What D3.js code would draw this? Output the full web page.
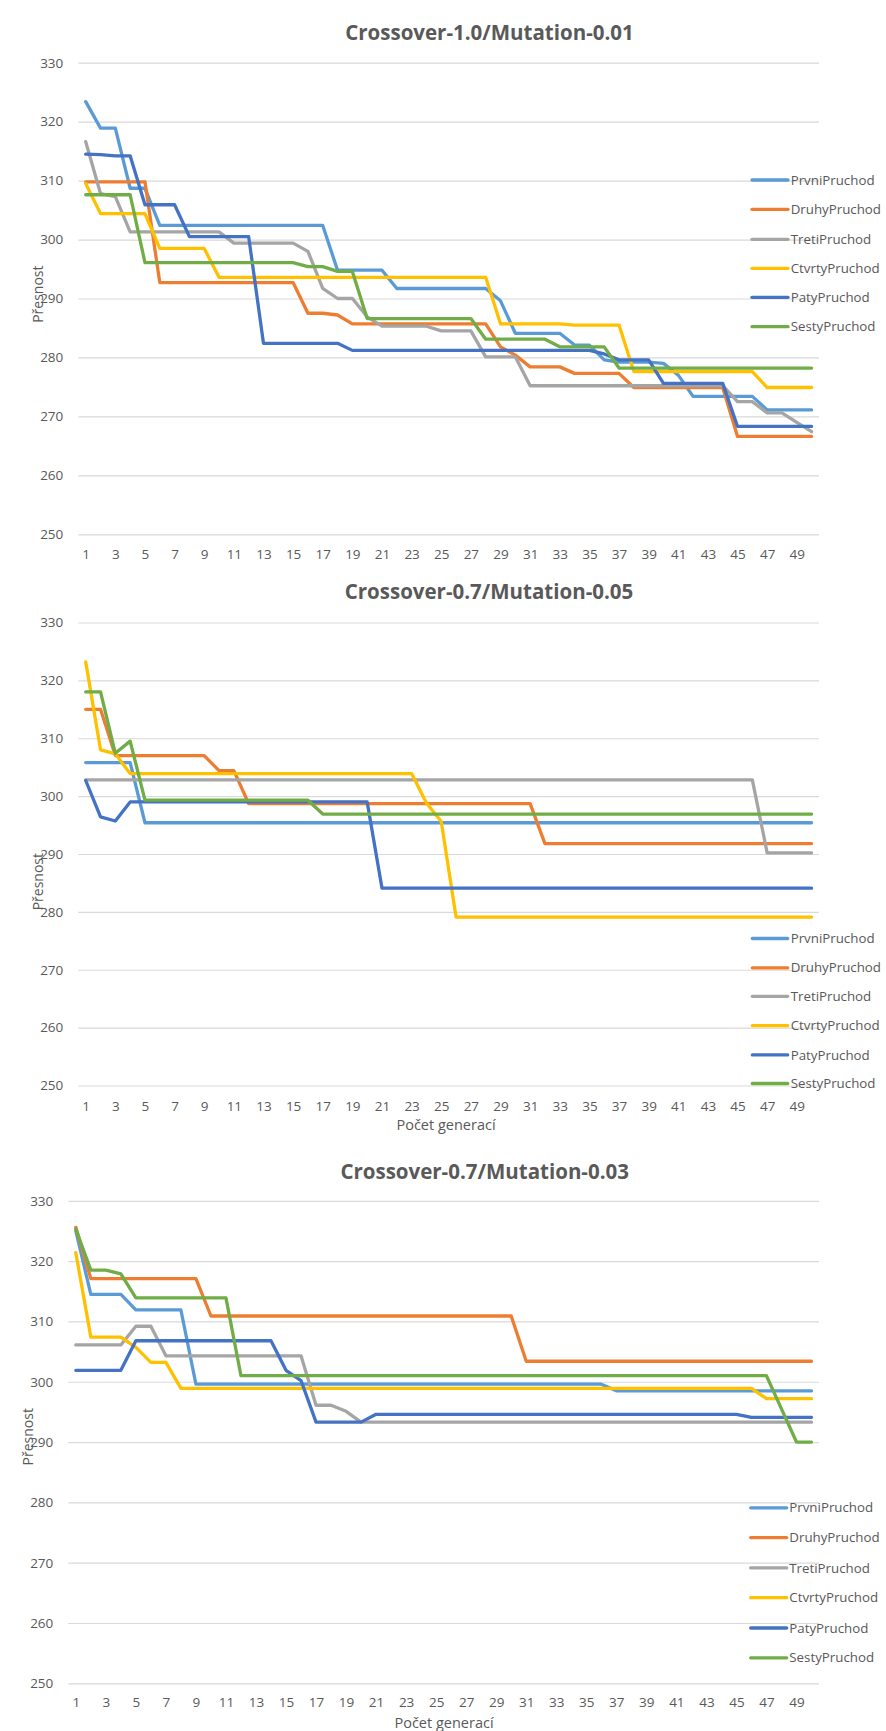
<!DOCTYPE html>
<html><head><meta charset="utf-8">
<script src="https://cdn.jsdelivr.net/npm/d3@7"></script>
<style>
body{margin:0;background:#fff;overflow:hidden;}
svg{display:block;}
</style></head><body>
<svg id="chart" width="886" height="1731"></svg>
<script>
// ---------- data ----------
const generations = [1,2,3,4,5,6,7,8,9,10,11,12,13,14,15,16,17,18,19,20,21,22,23,24,25,26,27,28,29,30,31,32,33,34,35,36,37,38,39,40,41,42,43,44,45,46,47,48,49,50];
const xTickLabels = [1,3,5,7,9,11,13,15,17,19,21,23,25,27,29,31,33,35,37,39,41,43,45,47,49];
const yTickLabels = [250,260,270,280,290,300,310,320,330];
const seriesNames = ["PrvniPruchod","DruhyPruchod","TretiPruchod","CtvrtyPruchod","PatyPruchod","SestyPruchod"];
const chartTitles = ["Crossover-1.0/Mutation-0.01","Crossover-0.7/Mutation-0.05","Crossover-0.7/Mutation-0.03"];
const yAxisTitle = "Přesnost";
const xAxisTitle = "Počet generací";

// Chart 1: Crossover-1.0/Mutation-0.01
const c1Prvni  = [323.4,318.9,318.9,308.7,308.7,302.4,302.4,302.4,302.4,302.4,302.4,302.4,302.4,302.4,302.4,302.4,302.4,294.8,294.8,294.8,294.8,291.7,291.7,291.7,291.7,291.7,291.7,291.7,289.6,284.1,284.1,284.1,284.1,282.1,282.1,279.6,279.2,279.2,279.2,279.0,277.0,273.4,273.4,273.4,273.4,273.4,271.1,271.1,271.1,271.1];
const c1Druhy  = [309.8,309.8,309.8,309.8,309.8,292.7,292.7,292.7,292.7,292.7,292.7,292.7,292.7,292.7,292.7,287.5,287.5,287.2,285.7,285.7,285.7,285.7,285.7,285.7,285.7,285.7,285.7,285.7,281.8,280.4,278.4,278.4,278.4,277.3,277.3,277.3,277.3,274.9,274.9,274.9,274.9,274.9,274.9,274.9,266.6,266.6,266.6,266.6,266.6,266.6];
const c1Treti  = [316.6,307.8,307.3,301.3,301.3,301.3,301.3,301.3,301.3,301.3,299.4,299.4,299.4,299.4,299.4,298.0,291.7,290.0,290.0,286.9,285.3,285.3,285.3,285.3,284.5,284.5,284.5,280.1,280.1,280.1,275.2,275.2,275.2,275.2,275.2,275.2,275.2,275.2,275.2,275.2,275.2,275.2,275.2,275.2,272.5,272.5,270.6,270.6,269.0,267.4];
const c1Ctvrty = [309.5,304.4,304.4,304.4,304.4,298.5,298.5,298.5,298.5,293.6,293.6,293.6,293.6,293.6,293.6,293.6,293.6,293.6,293.6,293.6,293.6,293.6,293.6,293.6,293.6,293.6,293.6,293.6,285.7,285.7,285.7,285.7,285.7,285.5,285.5,285.5,285.5,277.6,277.6,277.6,277.6,277.6,277.6,277.6,277.6,277.6,274.9,274.9,274.9,274.9];
const c1Paty   = [314.5,314.4,314.2,314.2,305.9,305.9,305.9,300.5,300.5,300.5,300.5,300.5,282.4,282.4,282.4,282.4,282.4,282.4,281.2,281.2,281.2,281.2,281.2,281.2,281.2,281.2,281.2,281.2,281.2,281.2,281.2,281.2,281.2,281.2,281.2,280.6,279.6,279.6,279.6,275.6,275.6,275.6,275.6,275.6,268.3,268.3,268.3,268.3,268.3,268.3];
const c1Sesty  = [307.6,307.6,307.6,307.6,296.1,296.1,296.1,296.1,296.1,296.1,296.1,296.1,296.1,296.1,296.1,295.4,295.4,294.6,294.6,286.6,286.6,286.6,286.6,286.6,286.6,286.6,286.6,283.1,283.1,283.1,283.1,283.1,281.8,281.8,281.8,281.8,278.2,278.2,278.2,278.2,278.2,278.2,278.2,278.2,278.2,278.2,278.2,278.2,278.2,278.2];

// Chart 2: Crossover-0.7/Mutation-0.05
const c2Prvni  = [305.8,305.8,305.8,305.8,295.4,295.4,295.4,295.4,295.4,295.4,295.4,295.4,295.4,295.4,295.4,295.4,295.4,295.4,295.4,295.4,295.4,295.4,295.4,295.4,295.4,295.4,295.4,295.4,295.4,295.4,295.4,295.4,295.4,295.4,295.4,295.4,295.4,295.4,295.4,295.4,295.4,295.4,295.4,295.4,295.4,295.4,295.4,295.4,295.4,295.4];
const c2Druhy  = [315.0,315.0,307.0,307.0,307.0,307.0,307.0,307.0,307.0,304.4,304.4,298.7,298.7,298.7,298.7,298.7,298.7,298.7,298.7,298.7,298.7,298.7,298.7,298.7,298.7,298.7,298.7,298.7,298.7,298.7,298.7,291.8,291.8,291.8,291.8,291.8,291.8,291.8,291.8,291.8,291.8,291.8,291.8,291.8,291.8,291.8,291.8,291.8,291.8,291.8];
const c2Treti  = [302.8,302.8,302.8,302.8,302.8,302.8,302.8,302.8,302.8,302.8,302.8,302.8,302.8,302.8,302.8,302.8,302.8,302.8,302.8,302.8,302.8,302.8,302.8,302.8,302.8,302.8,302.8,302.8,302.8,302.8,302.8,302.8,302.8,302.8,302.8,302.8,302.8,302.8,302.8,302.8,302.8,302.8,302.8,302.8,302.8,302.8,290.2,290.2,290.2,290.2];
const c2Ctvrty = [323.2,308.0,307.3,303.9,303.9,303.9,303.9,303.9,303.9,303.9,303.9,303.9,303.9,303.9,303.9,303.9,303.9,303.9,303.9,303.9,303.9,303.9,303.9,298.8,295.6,279.1,279.1,279.1,279.1,279.1,279.1,279.1,279.1,279.1,279.1,279.1,279.1,279.1,279.1,279.1,279.1,279.1,279.1,279.1,279.1,279.1,279.1,279.1,279.1,279.1];
const c2Paty   = [302.7,296.4,295.7,299.0,299.0,299.0,299.0,299.0,299.0,299.0,299.0,299.0,299.0,299.0,299.0,299.0,299.0,299.0,299.0,299.0,284.1,284.1,284.1,284.1,284.1,284.1,284.1,284.1,284.1,284.1,284.1,284.1,284.1,284.1,284.1,284.1,284.1,284.1,284.1,284.1,284.1,284.1,284.1,284.1,284.1,284.1,284.1,284.1,284.1,284.1];
const c2Sesty  = [318.0,318.0,307.4,309.5,299.3,299.3,299.3,299.3,299.3,299.3,299.3,299.3,299.3,299.3,299.3,299.3,296.9,296.9,296.9,296.9,296.9,296.9,296.9,296.9,296.9,296.9,296.9,296.9,296.9,296.9,296.9,296.9,296.9,296.9,296.9,296.9,296.9,296.9,296.9,296.9,296.9,296.9,296.9,296.9,296.9,296.9,296.9,296.9,296.9,296.9];

// Chart 3: Crossover-0.7/Mutation-0.03
const c3Prvni  = [325.0,314.5,314.5,314.5,311.9,311.9,311.9,311.9,299.6,299.6,299.6,299.6,299.6,299.6,299.6,299.6,299.6,299.6,299.6,299.6,299.6,299.6,299.6,299.6,299.6,299.6,299.6,299.6,299.6,299.6,299.6,299.6,299.6,299.6,299.6,299.6,298.5,298.5,298.5,298.5,298.5,298.5,298.5,298.5,298.5,298.5,298.5,298.5,298.5,298.5];
const c3Druhy  = [325.6,317.1,317.1,317.1,317.1,317.1,317.1,317.1,317.1,310.9,310.9,310.9,310.9,310.9,310.9,310.9,310.9,310.9,310.9,310.9,310.9,310.9,310.9,310.9,310.9,310.9,310.9,310.9,310.9,310.9,303.4,303.4,303.4,303.4,303.4,303.4,303.4,303.4,303.4,303.4,303.4,303.4,303.4,303.4,303.4,303.4,303.4,303.4,303.4,303.4];
const c3Treti  = [306.1,306.1,306.1,306.1,309.2,309.2,304.3,304.3,304.3,304.3,304.3,304.3,304.3,304.3,304.3,304.3,296.1,296.1,295.1,293.3,293.3,293.3,293.3,293.3,293.3,293.3,293.3,293.3,293.3,293.3,293.3,293.3,293.3,293.3,293.3,293.3,293.3,293.3,293.3,293.3,293.3,293.3,293.3,293.3,293.3,293.3,293.3,293.3,293.3,293.3];
const c3Ctvrty = [321.4,307.4,307.4,307.4,305.7,303.2,303.2,298.9,298.9,298.9,298.9,298.9,298.9,298.9,298.9,298.9,298.9,298.9,298.9,298.9,298.9,298.9,298.9,298.9,298.9,298.9,298.9,298.9,298.9,298.9,298.9,298.9,298.9,298.9,298.9,298.9,298.9,298.9,298.9,298.9,298.9,298.9,298.9,298.9,298.9,298.9,297.2,297.2,297.2,297.2];
const c3Paty   = [301.9,301.9,301.9,301.9,306.8,306.8,306.8,306.8,306.8,306.8,306.8,306.8,306.8,306.8,301.9,300.2,293.3,293.3,293.3,293.3,294.6,294.6,294.6,294.6,294.6,294.6,294.6,294.6,294.6,294.6,294.6,294.6,294.6,294.6,294.6,294.6,294.6,294.6,294.6,294.6,294.6,294.6,294.6,294.6,294.6,294.1,294.1,294.1,294.1,294.1];
const c3Sesty  = [325.3,318.5,318.5,317.9,313.9,313.9,313.9,313.9,313.9,313.9,313.9,301.0,301.0,301.0,301.0,301.0,301.0,301.0,301.0,301.0,301.0,301.0,301.0,301.0,301.0,301.0,301.0,301.0,301.0,301.0,301.0,301.0,301.0,301.0,301.0,301.0,301.0,301.0,301.0,301.0,301.0,301.0,301.0,301.0,301.0,301.0,301.0,295.5,290.0,290.0];

// ---------- styles / layout ----------
const colors = ["#5B9BD5","#ED7D31","#A5A5A5","#FFC000","#4472C4","#70AD47"];
const FONT = "'Open Sans', 'Noto Sans', sans-serif";
const TXT = "#595959";

const layouts = [
  {x0:78.3, x1:819, yt:62.7, yb:534.3, titleX:489.5, titleY:40, yTitleX:38.3, yTitleY:294.2,
   xLabY:554, xTitle:false, legLine:[752,788], legTextX:790.7, legRows:[180,209.3,239.3,268.3,297.3,326.7]},
  {x0:78.3, x1:819, yt:622.5, yb:1085.5, titleX:489, titleY:598.5, yTitleX:38.3, yTitleY:881.7,
   xLabY:1106, xTitle:true, xTitleX:446, xTitleY:1124.5, legLine:[752.3,787.7], legTextX:790.7, legRows:[938.5,967.8,996.3,1025.6,1054.9,1083.5]},
  {x0:68.3, x1:819, yt:1200.8, yb:1683.3, titleX:484.7, titleY:1178.5, yTitleX:28.3, yTitleY:1436.8,
   xLabY:1702.6, xTitle:true, xTitleX:444, xTitleY:1722.6, legLine:[750.7,786.7], legTextX:789.3, legRows:[1507.8,1537.6,1567.9,1597.7,1628,1657.8]}
];

const chartSeries = [
  [c1Prvni,c1Druhy,c1Treti,c1Ctvrty,c1Paty,c1Sesty],
  [c2Prvni,c2Druhy,c2Treti,c2Ctvrty,c2Paty,c2Sesty],
  [c3Prvni,c3Druhy,c3Treti,c3Ctvrty,c3Paty,c3Sesty]
];

const svg = d3.select("#chart");
svg.append("rect").attr("width",886).attr("height",1731).attr("fill","#fff");

function drawChart(k){
  const L = layouts[k], data = chartSeries[k];
  const g = svg.append("g");
  const x = d3.scalePoint().domain(generations).range([L.x0, L.x1]).padding(0.5);
  const y = d3.scaleLinear().domain([250,330]).range([L.yb, L.yt]);

  // gridlines + y tick labels
  g.append("g").attr("transform",`translate(${L.x0},0)`)
    .call(d3.axisLeft(y).tickValues(yTickLabels).tickSize(-(L.x1-L.x0)).tickPadding(15).tickFormat(d3.format("d")))
    .call(a=>a.select(".domain").remove())
    .call(a=>a.selectAll("line").attr("stroke","#d9d9d9").attr("stroke-width",1.2))
    .call(a=>a.selectAll("text").attr("fill",TXT).attr("font-family",FONT).attr("font-size",13.5));

  // x tick labels
  const xa = g.append("g").attr("transform",`translate(0,${L.yb})`)
    .call(d3.axisBottom(x).tickValues(xTickLabels).tickSize(0).tickPadding(0))
    .call(a=>a.select(".domain").remove());
  xa.selectAll("text").attr("fill",TXT).attr("font-family",FONT).attr("font-size",13.5)
    .attr("y", L.xLabY - L.yb).attr("dy","0.35em");

  // series lines
  const line = d3.line().x((d,i)=>x(generations[i])).y(d=>y(d));
  data.forEach((s,i)=>{
    g.append("path").datum(s).attr("d",line).attr("fill","none")
      .attr("stroke",colors[i]).attr("stroke-width",3.3)
      .attr("stroke-linejoin","round").attr("stroke-linecap","round");
  });

  // title
  g.append("text").attr("x",L.titleX).attr("y",L.titleY).attr("text-anchor","middle")
    .attr("font-family",FONT).attr("font-weight","bold").attr("font-size",20.5).attr("fill",TXT)
    .text(chartTitles[k]);

  // y axis title
  g.append("text").attr("transform",`translate(${L.yTitleX},${L.yTitleY}) rotate(-90)`)
    .attr("text-anchor","middle").attr("dy","0.35em")
    .attr("font-family",FONT).attr("font-size",14).attr("fill",TXT).text(yAxisTitle);

  if(L.xTitle){
    g.append("text").attr("x",L.xTitleX).attr("y",L.xTitleY).attr("dy","0.35em").attr("text-anchor","middle")
      .attr("font-family",FONT).attr("font-size",14.5).attr("fill",TXT).text(xAxisTitle);
  }

  // legend
  const leg = g.append("g");
  seriesNames.forEach((n,i)=>{
    const yy = L.legRows[i];
    leg.append("line").attr("x1",L.legLine[0]).attr("x2",L.legLine[1]).attr("y1",yy).attr("y2",yy)
      .attr("stroke",colors[i]).attr("stroke-width",3.3).attr("stroke-linecap","round");
    leg.append("text").attr("x",L.legTextX).attr("y",yy).attr("dy","0.35em")
      .attr("font-family",FONT).attr("font-size",13.3).attr("fill",TXT).text(n);
  });
}
[0,1,2].forEach(drawChart);
</script>
</body></html>
